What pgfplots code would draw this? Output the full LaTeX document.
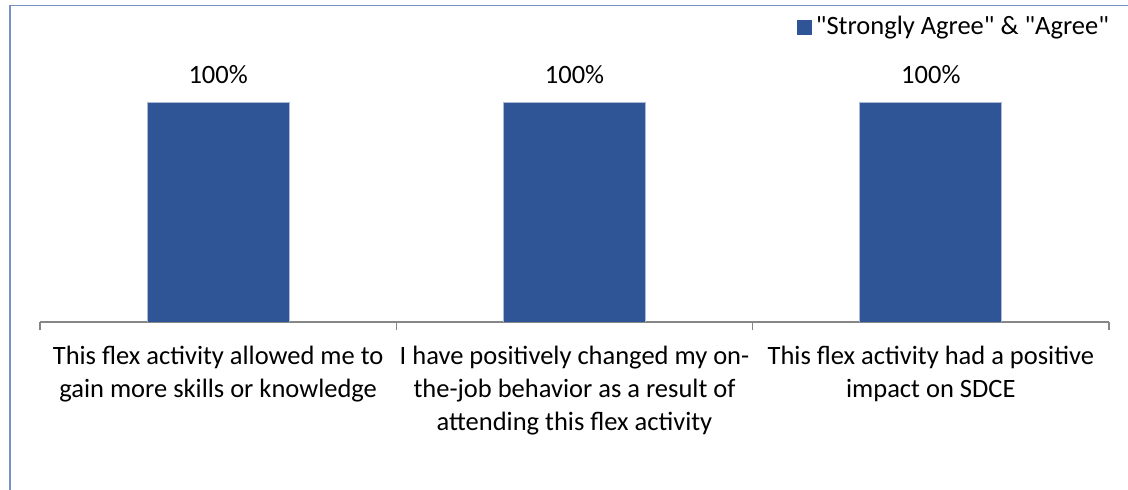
\documentclass[border=0pt]{standalone}
\usepackage{fontspec}
\setmainfont{Carlito}
\usepackage{pgfplots}
\pgfplotsset{compat=1.18}
\definecolor{barblue}{RGB}{47,85,151}
\definecolor{framecol}{RGB}{120,146,196}
\definecolor{axisgray}{RGB}{134,134,134}
\begin{document}
\fontsize{13.3}{16.5}\selectfont
\begin{tikzpicture}
\useasboundingbox (0,0) rectangle (564bp,245bp);
\draw[framecol, line width=0.8bp] (5bp,-20bp) -- (5bp,242.2bp) -- (600bp,242.2bp);
\begin{axis}[
  at={(20bp,84bp)}, anchor=south west,
  scale only axis, width=534.5bp, height=110bp,
  xmin=-0.5, xmax=2.5, ymin=0, ymax=100,
  axis x line*=bottom, hide y axis,
  axis line style={axisgray, line width=0.6bp},
  xtick={0,1,2},
  xticklabels={{This flex activity allowed me to\\gain more skills or knowledge},
               {I have positively changed my on-\\the-job behavior as a result of\\attending this flex activity},
               {This flex activity had a positive\\impact on SDCE}},
  major tick length=0pt,
  minor xtick={-0.5,0.5,1.5,2.5},
  minor tick length=4bp,
  tick align=outside,
  minor x tick style={axisgray, line width=0.6bp},
  xticklabel style={align=center, font=\fontsize{13.3}{16.5}\selectfont, anchor=north, yshift=-7.5bp},
  ybar, bar width=71bp,
  nodes near coords={\pgfmathprintnumber[assume math mode=true]{\pgfplotspointmeta}\%},
  nodes near coords style={font=\fontsize{13.3}{16.5}\selectfont, anchor=south, yshift=4.5bp},
  legend style={draw=none, fill=none, at={(1.004,1.341)}, anchor=east,
    font=\fontsize{13.3}{16.5}\selectfont, inner sep=0pt,
    /tikz/every even column/.append style={column sep=0pt}},
  legend image code/.code={\fill[barblue] (0bp,-3.5bp) rectangle (7bp,3.5bp);},
]
\addplot[fill=barblue, draw=barblue!40!white, line width=0.4bp] coordinates {(0,100) (1,100) (2,100)};
\legend{\textquotedbl Strongly Agree\textquotedbl\ \& \textquotedbl Agree\textquotedbl}
\end{axis}
\end{tikzpicture}
\end{document}
